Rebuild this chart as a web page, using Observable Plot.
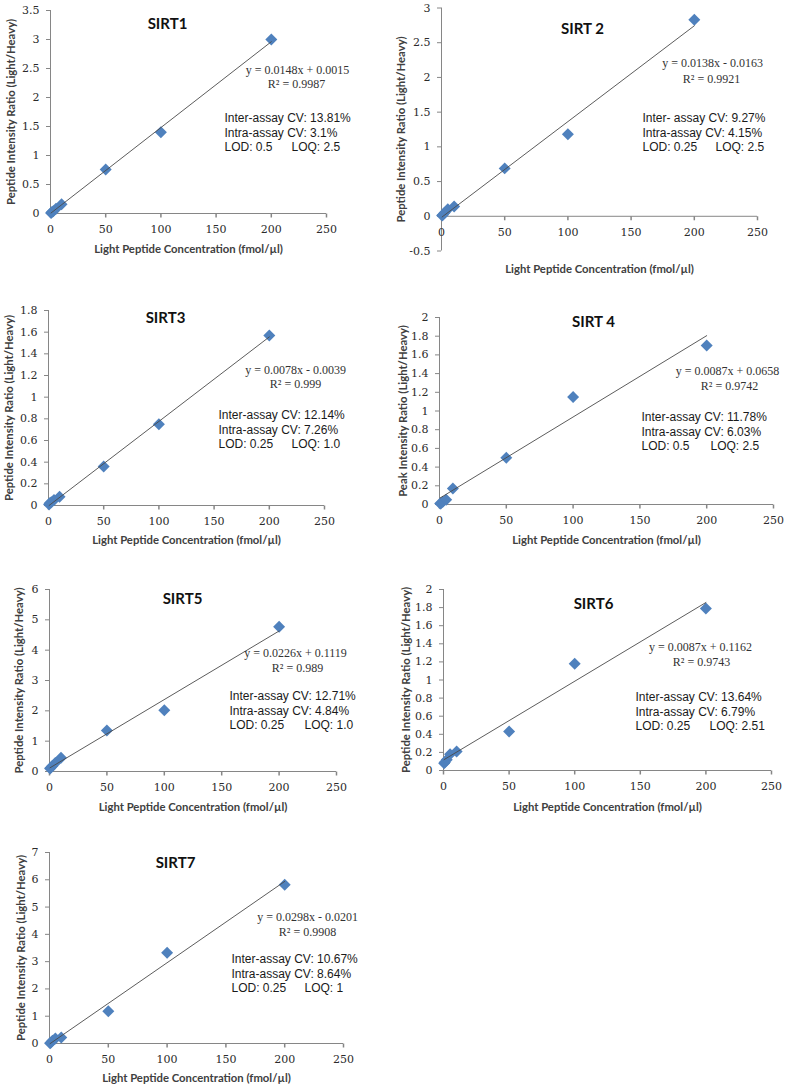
<!DOCTYPE html>
<html><head><meta charset="utf-8">
<script src="https://cdn.jsdelivr.net/npm/d3@7"></script>
<script src="https://cdn.jsdelivr.net/npm/@observablehq/plot@0.6"></script>
<style>
body{margin:0;background:#fff}
#page{position:relative;width:787px;height:1087px;overflow:hidden;background:#fff}
.panel{position:absolute}
</style></head><body><div id="page"></div>
<script>
// ---------- data ----------
const concentrations = [0.5, 1, 2.5, 5, 10, 50, 100, 200];
const titles = ["SIRT1", "SIRT 2", "SIRT3", "SIRT 4", "SIRT5", "SIRT6", "SIRT7"];
const sirt1 = [0.01, 0.02, 0.04, 0.08, 0.16, 0.76, 1.40, 3.00];
const sirt2 = [0.01, 0.02, 0.05, 0.10, 0.14, 0.69, 1.18, 2.83];
const sirt3 = [0.01, 0.02, 0.03, 0.05, 0.08, 0.36, 0.75, 1.57];
const sirt4 = [0.01, 0.01, 0.03, 0.05, 0.17, 0.50, 1.15, 1.70];
const sirt5 = [0.10, 0.12, 0.18, 0.28, 0.45, 1.35, 2.02, 4.77];
const sirt6 = [0.08, 0.09, 0.12, 0.18, 0.21, 0.43, 1.18, 1.79];
const sirt7 = [0.01, 0.03, 0.10, 0.18, 0.22, 1.18, 3.33, 5.82];
const slopes = [0.0148, 0.0138, 0.0078, 0.0087, 0.0226, 0.0087, 0.0298];
const intercepts = [0.0015, -0.0163, -0.0039, 0.0658, 0.1119, 0.1162, -0.0201];
const equations = ["y = 0.0148x + 0.0015", "y = 0.0138x - 0.0163", "y = 0.0078x - 0.0039",
  "y = 0.0087x + 0.0658", "y = 0.0226x + 0.1119", "y = 0.0087x + 0.1162", "y = 0.0298x - 0.0201"];
const r2Labels = ["R² = 0.9987", "R² = 0.9921", "R² = 0.999", "R² = 0.9742", "R² = 0.989", "R² = 0.9743", "R² = 0.9908"];
const interCV = ["Inter-assay CV: 13.81%", "Inter- assay CV: 9.27%", "Inter-assay CV: 12.14%",
  "Inter-assay CV: 11.78%", "Inter-assay CV: 12.71%", "Inter-assay CV: 13.64%", "Inter-assay CV: 10.67%"];
const intraCV = ["Intra-assay CV: 3.1%", "Intra-assay CV: 4.15%", "Intra-assay CV: 7.26%",
  "Intra-assay CV: 6.03%", "Intra-assay CV: 4.84%", "Intra-assay CV: 6.79%", "Intra-assay CV: 8.64%"];
const lodLabels = ["LOD: 0.5", "LOD: 0.25", "LOD: 0.25", "LOD: 0.5", "LOD: 0.25", "LOD: 0.25", "LOD: 0.25"];
const loqLabels = ["LOQ: 2.5", "LOQ: 2.5", "LOQ: 1.0", "LOQ: 2.5", "LOQ: 1.0", "LOQ: 2.51", "LOQ: 1"];
const yLabels = ["Peptide Intensity Ratio (Light/Heavy)", "Peptide Intensity Ratio (Light/Heavy)",
  "Peptide Intensity Ratio (Light/Heavy)", "Peak Intensity Ratio (Light/Heavy)",
  "Peptide Intensity Ratio (Light/Heavy)", "Peptide Intensity Ratio (Light/Heavy)",
  "Peptide Intensity Ratio (Light/Heavy)"];
const xLabel = "Light Peptide Concentration (fmol/µl)";
const xTicks = [0, 50, 100, 150, 200, 250];
const yTicks = [
  [0, 0.5, 1, 1.5, 2, 2.5, 3, 3.5],
  [-0.5, 0, 0.5, 1, 1.5, 2, 2.5, 3],
  [0, 0.2, 0.4, 0.6, 0.8, 1, 1.2, 1.4, 1.6, 1.8],
  [0, 0.2, 0.4, 0.6, 0.8, 1, 1.2, 1.4, 1.6, 1.8, 2],
  [0, 1, 2, 3, 4, 5, 6],
  [0, 0.2, 0.4, 0.6, 0.8, 1, 1.2, 1.4, 1.6, 1.8, 2],
  [0, 1, 2, 3, 4, 5, 6, 7]
];
const series = [sirt1, sirt2, sirt3, sirt4, sirt5, sirt6, sirt7];

// ---------- layout (page pixel coordinates) ----------
const layout = [
  {box:[0,0,390,285],   frame:[50,10,326,213],    title:[167,24],  eq:[297,70],  r2:[296,84],  stats:[224,118], loqDx:67, yLabelX:11,  xLabelY:249},
  {box:[390,0,397,285], frame:[441,7.5,757,250.5],title:[582,29],  eq:[712,63],  r2:[711,79],  stats:[642,118], loqDx:73, yLabelX:401, xLabelY:269},
  {box:[0,290,390,270], frame:[48,310,324,505],   title:[165,318], eq:[295,370], r2:[295,384], stats:[218,415], loqDx:73, yLabelX:9,   xLabelY:540},
  {box:[390,290,397,270],frame:[439,317,773,504], title:[593,322], eq:[727,371], r2:[729,386], stats:[641,417], loqDx:69, yLabelX:403, xLabelY:540},
  {box:[0,565,390,255], frame:[49,589,336,771],   title:[182,599], eq:[295,653], r2:[297,668], stats:[229,696], loqDx:75, yLabelX:19,  xLabelY:807},
  {box:[390,565,397,255],frame:[443,589,771,770], title:[593,604], eq:[700,647], r2:[701,662], stats:[635,697], loqDx:74, yLabelX:406, xLabelY:807},
  {box:[0,825,390,262], frame:[49,852,343,1043],  title:[175,863], eq:[307,917], r2:[307,932], stats:[231,959], loqDx:73, yLabelX:21,  xLabelY:1078}
];

const AXIS = "#868686";
const BLUE = "#4F81BD";
const TICKFONT = "'DejaVu Serif', 'Liberation Serif', serif";
const SERIF = "'Liberation Serif', 'DejaVu Serif', serif";
const SANS = "'Liberation Sans', Arial, sans-serif";
const LABEL = "Lato, 'Open Sans', sans-serif";
const tickDown = {draw(ctx) { ctx.moveTo(0, 0); ctx.lineTo(0, 4); }};
const fmt = d => String(d);

const page = document.getElementById("page");

series.forEach((vals, i) => {
  const L = layout[i];
  const [bx, by, bw, bh] = L.box;
  const [fl, ft, fr, fb] = L.frame;
  const pts = concentrations.map((c, k) => ({x: c, y: vals[k]}));
  const x0 = concentrations[0], x1 = concentrations[concentrations.length - 1];
  const trend = [x0, x1].map(x => ({x, y: slopes[i] * x + intercepts[i]}));
  const yt = yTicks[i];
  const rel = ([px, py]) => ({dx: px - fl, dy: py - ft});
  const t = rel(L.title), e = rel(L.eq), r = rel(L.r2), s = rel(L.stats);

  const chart = Plot.plot({
    width: bw, height: bh,
    marginLeft: fl - bx, marginRight: bx + bw - fr,
    marginTop: ft - by, marginBottom: by + bh - fb,
    style: {background: "transparent", overflow: "visible"},
    x: {domain: [0, 250], axis: null},
    y: {domain: [yt[0], yt[yt.length - 1]], axis: null},
    marks: [
      Plot.ruleX([0], {stroke: AXIS}),
      Plot.ruleY([0], {stroke: AXIS}),
      Plot.axisY({ticks: yt, tickFormat: fmt, tickSize: 4, tickPadding: 7, stroke: AXIS, fill: "#2b2b2b",
        fontFamily: TICKFONT, fontSize: 11, label: null}),
      Plot.dot(xTicks, {x: d => d, y: () => 0, symbol: tickDown, stroke: AXIS, fill: "none"}),
      Plot.text(xTicks, {x: d => d, y: () => 0, text: fmt, dy: 16, fill: "#2b2b2b",
        fontFamily: TICKFONT, fontSize: 11, lineAnchor: "middle", textAnchor: "middle"}),
      Plot.text([xLabel], {frameAnchor: "bottom", dy: L.xLabelY - fb, fill: "#404040",
        fontFamily: LABEL, fontWeight: "bold", fontSize: 11.3, lineAnchor: "middle", textAnchor: "middle"}),
      Plot.text([yLabels[i]], {frameAnchor: "left", dx: L.yLabelX - fl, rotate: -90, fill: "#404040",
        fontFamily: LABEL, fontWeight: "bold", fontSize: 11.3, lineAnchor: "middle", textAnchor: "middle"}),
      Plot.dot(pts, {x: "x", y: "y", symbol: "diamond2", r: 5.4, fill: BLUE, stroke: "none"}),
      Plot.line(trend, {x: "x", y: "y", stroke: "#4a4a4a", strokeWidth: 0.9}),
      Plot.text([titles[i]], {frameAnchor: "top-left", dx: t.dx, dy: t.dy, fill: "#111",
        fontFamily: LABEL, fontWeight: "bold", fontSize: 15, lineAnchor: "middle", textAnchor: "middle"}),
      Plot.text([equations[i]], {frameAnchor: "top-left", dx: e.dx, dy: e.dy, fill: "#333",
        fontFamily: SERIF, fontSize: 12, lineAnchor: "middle", textAnchor: "middle"}),
      Plot.text([r2Labels[i]], {frameAnchor: "top-left", dx: r.dx, dy: r.dy, fill: "#333",
        fontFamily: SERIF, fontSize: 12, lineAnchor: "middle", textAnchor: "middle"}),
      Plot.text([interCV[i]], {frameAnchor: "top-left", dx: s.dx, dy: s.dy, fill: "#1a1a1a",
        fontFamily: SANS, fontSize: 12, lineAnchor: "middle", textAnchor: "start"}),
      Plot.text([intraCV[i]], {frameAnchor: "top-left", dx: s.dx, dy: s.dy + 14.3, fill: "#1a1a1a",
        fontFamily: SANS, fontSize: 12, lineAnchor: "middle", textAnchor: "start"}),
      Plot.text([lodLabels[i]], {frameAnchor: "top-left", dx: s.dx, dy: s.dy + 28.6, fill: "#1a1a1a",
        fontFamily: SANS, fontSize: 12, lineAnchor: "middle", textAnchor: "start"}),
      Plot.text([loqLabels[i]], {frameAnchor: "top-left", dx: s.dx + L.loqDx, dy: s.dy + 28.6, fill: "#1a1a1a",
        fontFamily: SANS, fontSize: 12, lineAnchor: "middle", textAnchor: "start"})
    ]
  });
  chart.classList.add("panel");
  chart.style.left = bx + "px";
  chart.style.top = by + "px";
  page.appendChild(chart);
});
</script>
</body></html>
